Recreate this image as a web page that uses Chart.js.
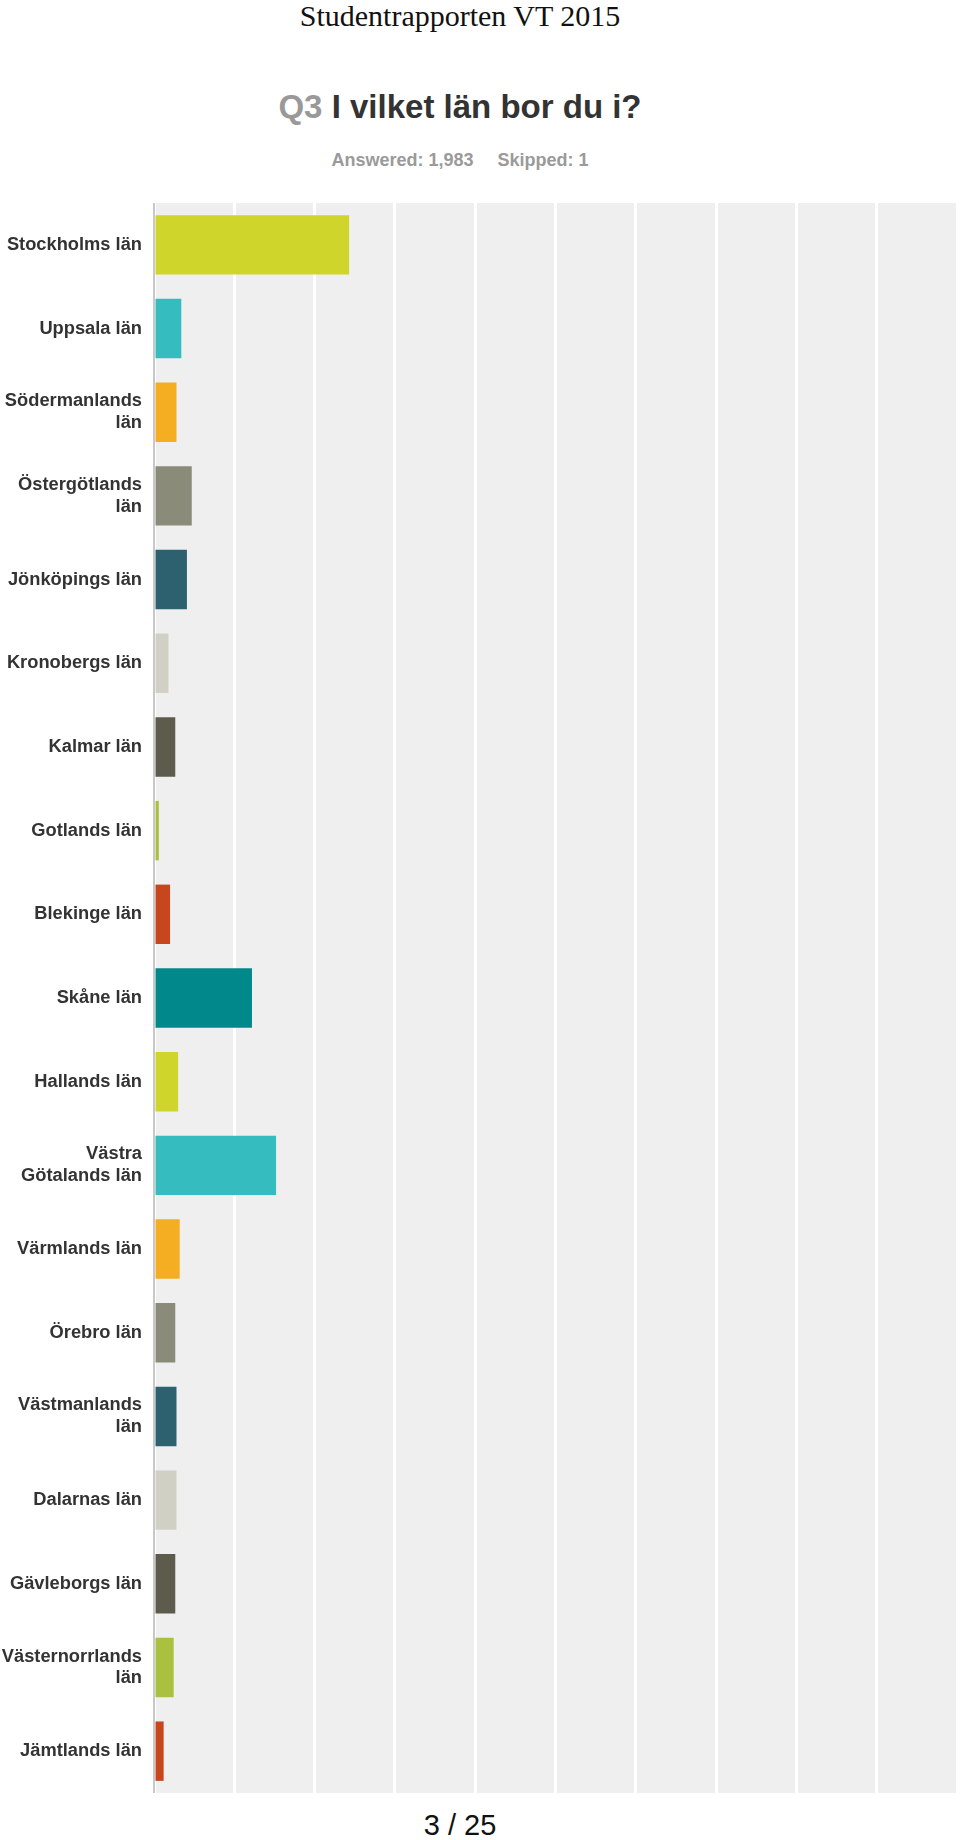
<!DOCTYPE html>
<html lang="sv">
<head>
    <meta charset="UTF-8">
    <title>Studentrapporten VT 2015</title>
    <script src="https://cdn.jsdelivr.net/npm/chart.js@4/dist/chart.umd.min.js"></script>
    <style>
        body { margin: 0; background: #fff; width: 960px; height: 1840px; position: relative; overflow: hidden; }
        .page-title { position: absolute; top: 0; left: 0; width: 920px; text-align: center; font-family: "Liberation Serif", "Times New Roman", serif; font-size: 30px; color: #111; line-height: 32px; }
        .question { position: absolute; top: 87px; left: 0; width: 920px; text-align: center; font-family: "Liberation Sans", Arial, sans-serif; font-weight: bold; font-size: 33px; color: #333; line-height: 40px; }
        .question .num { color: #999; }
        .stats { position: absolute; top: 149px; left: 0; width: 920px; text-align: center; font-family: "Liberation Sans", Arial, sans-serif; font-weight: bold; font-size: 18px; color: #9a9a9a; line-height: 22px; }
        .stats span { margin: 0 12px; }
        .chart-wrapper { position: absolute; left: 0; top: 203px; width: 960px; height: 1590px; }
        .page-num { position: absolute; top: 1808px; left: 0; width: 920px; text-align: center; font-family: "Liberation Sans", Arial, sans-serif; font-size: 29px; color: #111; line-height: 34px; }
    </style>
</head>
<body>
<div class="page-title">Studentrapporten VT 2015</div>
<div class="question"><span class="num">Q3</span> I vilket län bor du i?</div>
<div class="stats"><span>Answered: 1,983</span><span>Skipped: 1</span></div>
<div class="chart-wrapper">
    <canvas id="chart"></canvas>
</div>
<div class="page-num">3 / 25</div>
<script>
    // counties (tick labels, wrapped like in the report)
    const counties = [
        'Stockholms län', 'Uppsala län', ['Södermanlands', 'län'], ['Östergötlands', 'län'],
        'Jönköpings län', 'Kronobergs län', 'Kalmar län', 'Gotlands län', 'Blekinge län',
        'Skåne län', 'Hallands län', ['Västra', 'Götalands län'], 'Värmlands län', 'Örebro län',
        ['Västmanlands', 'län'], 'Dalarnas län', 'Gävleborgs län', ['Västernorrlands', 'län'], 'Jämtlands län'
    ]

    // share of answers in percent
    const shares = [24.3, 3.4, 2.8, 4.7, 4.1, 1.8, 2.65, 0.6, 2.0, 12.2, 3.0, 15.2, 3.2, 2.65, 2.8, 2.8, 2.65, 2.45, 1.2]

    const palette = ['#cfd52a', '#35bcbf', '#f5ae22', '#8a8b79', '#2d6170', '#d1d0c4', '#5d5b4c', '#a9c13e', '#c8461e', '#00888a']

    const plotBackground = {
        id: 'plotBackground',
        beforeDraw(chart) {
            const {ctx, chartArea} = chart
            ctx.save()
            ctx.fillStyle = '#efefef'
            ctx.fillRect(chartArea.left, chartArea.top, chartArea.right - chartArea.left, chartArea.bottom - chartArea.top)
            ctx.restore()
        }
    }

    new Chart(document.getElementById('chart'), {
        type: 'bar',
        plugins: [plotBackground],
        data: {
            labels: counties,
            datasets: [{
                data: shares,
                backgroundColor: shares.map((v, i) => palette[i % palette.length]),
                borderWidth: 0,
                categoryPercentage: 1,
                barPercentage: 0.71
            }]
        },
        options: {
            indexAxis: 'y',
            responsive: true,
            maintainAspectRatio: false,
            animation: false,
            layout: {padding: {top: 0, right: 3, bottom: 0, left: 0}},
            plugins: {legend: {display: false}, tooltip: {enabled: false}},
            scales: {
                x: {
                    min: 0,
                    max: 100,
                    ticks: {display: false, stepSize: 10},
                    grid: {color: '#ffffff', lineWidth: 3, drawTicks: false},
                    border: {display: false},
                    afterFit: scale => {
                        scale.height = 0
                        scale.paddingLeft = 0
                        scale.paddingRight = 0
                    }
                },
                y: {
                    ticks: {
                        color: '#333',
                        padding: 12,
                        font: {family: '"Liberation Sans", Arial, sans-serif', size: 18.3, weight: 'bold', lineHeight: 1.2}
                    },
                    grid: {display: false, drawTicks: false},
                    border: {display: true, color: '#c8c8c8', width: 2},
                    afterFit: scale => {
                        scale.width = 154
                        scale.paddingTop = 0
                        scale.paddingBottom = 0
                    }
                }
            }
        }
    })
</script>
</body>
</html>
